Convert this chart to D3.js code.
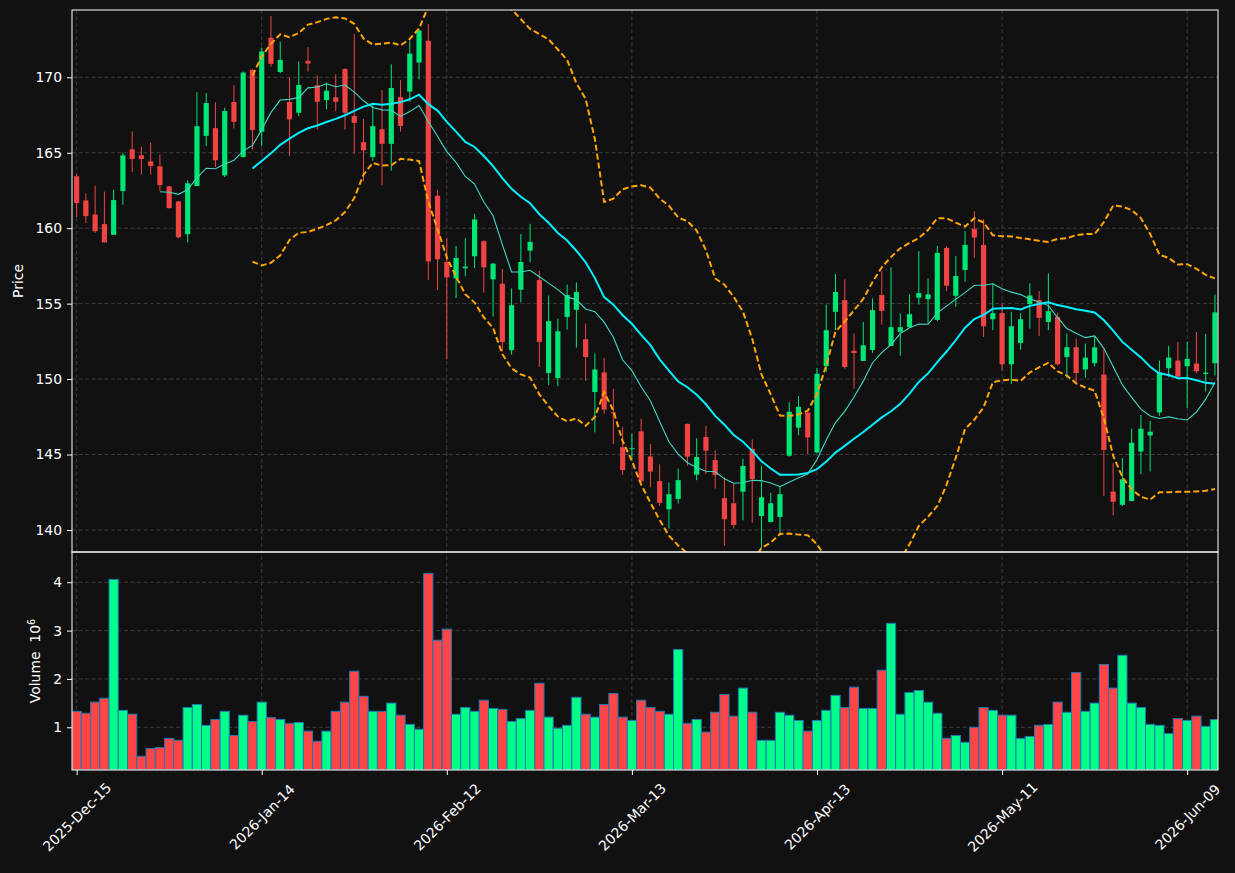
<!DOCTYPE html>
<html>
<head>
<meta charset="utf-8">
<script src="https://cdn.jsdelivr.net/npm/d3@7"></script>
<style>
  body { margin: 0; background: #111111; }
  text { font-family: "DejaVu Sans", sans-serif; fill: #ffffff; }
</style>
</head>
<body>
<svg id="chart" width="1235" height="873"></svg>
<script>
// trading calendar: weekdays from the first session, skipping exchange holidays
const startDate = "2025-12-15";
const holidays = ["2025-12-25", "2026-01-01", "2026-01-19", "2026-02-16", "2026-04-03", "2026-05-25"];
const sessionCount = 124;
const tickEvery = 20;

// OHLC
const openP = [163.44,161.84,160.91,160.27,159.56,162.46,165.23,164.83,164.43,164.10,
  162.77,161.77,159.60,162.79,166.12,166.63,163.50,168.36,164.72,170.49,
  166.39,172.62,170.35,168.36,167.65,171.09,169.47,168.49,168.67,170.55,
  167.43,165.70,164.72,166.56,165.59,168.69,169.05,170.98,172.42,162.15,
  157.76,156.67,157.34,158.14,159.14,156.61,156.32,151.91,155.92,158.51,
  156.56,150.40,150.07,154.12,154.59,152.64,149.14,150.44,147.80,145.48,
  145.38,146.53,144.87,143.24,141.37,142.06,147.03,143.66,146.16,144.63,
  142.11,141.77,142.53,145.37,140.93,140.53,140.86,144.92,146.78,147.78,
  145.14,150.86,154.46,155.23,151.88,151.20,151.93,155.57,152.20,153.13,
  153.44,155.39,155.30,153.92,158.69,155.52,157.23,159.96,158.89,153.97,
  154.37,150.98,152.39,154.97,155.23,153.79,154.12,151.46,152.11,150.64,
  151.05,150.30,142.54,141.67,141.92,145.20,146.26,147.79,150.72,151.23,
  150.85,151.03,150.34,151.05];
const highP = [163.57,162.31,162.82,162.42,162.55,164.99,166.41,165.41,165.68,164.88,
  162.80,161.80,163.17,169.02,168.96,168.34,167.98,169.47,170.38,170.55,
  171.97,174.06,172.37,169.98,171.04,172.00,170.13,169.65,170.20,170.60,
  172.88,167.23,168.20,169.16,170.86,169.82,172.44,173.20,173.53,162.55,
  159.33,158.82,159.33,160.95,159.20,157.70,157.30,156.01,159.60,160.29,
  157.16,155.54,154.01,156.27,156.41,153.68,151.71,151.42,149.36,146.83,
  146.37,147.37,145.71,144.35,143.15,144.08,147.05,146.08,146.90,145.28,
  143.48,143.08,144.72,146.00,144.26,142.46,142.86,148.47,148.87,147.80,
  150.73,154.94,156.96,156.61,153.02,153.79,155.34,157.14,157.41,154.35,
  155.61,158.49,156.67,158.82,158.80,158.16,159.80,161.13,160.60,156.34,
  155.01,154.46,154.35,156.34,155.83,157.01,154.39,153.02,152.68,152.35,
  152.83,152.01,144.42,144.76,146.71,147.62,147.24,151.23,152.21,152.47,
  152.47,153.12,153.00,155.60];
const lowP = [160.73,160.35,159.69,159.06,159.56,161.55,163.73,163.55,163.55,162.48,
  161.30,159.33,159.06,162.79,165.45,164.06,163.39,166.61,164.68,165.21,
  165.45,170.71,170.27,164.79,167.43,170.38,166.54,167.87,167.76,166.54,
  164.94,163.13,164.46,162.84,163.81,166.39,168.38,169.87,156.56,155.90,
  151.31,155.37,156.81,157.36,155.74,154.15,151.82,151.62,155.08,157.74,
  150.80,149.62,149.53,153.28,152.08,149.87,146.47,147.69,145.70,143.66,
  144.71,143.20,142.83,141.60,140.09,141.75,144.26,143.30,143.70,142.75,
  138.96,140.09,140.64,140.47,138.80,140.50,139.65,144.86,146.27,145.03,
  145.10,150.47,153.24,150.69,149.36,151.20,151.73,153.61,152.20,151.55,
  153.40,154.94,153.68,153.84,155.83,154.79,156.45,158.05,152.79,153.24,
  150.58,149.69,151.95,153.35,152.86,153.24,150.90,150.09,149.80,150.09,
  150.83,142.25,140.96,141.59,141.90,143.69,143.87,147.57,150.12,150.01,
  148.08,150.39,149.17,150.23];
const closeP = [161.66,160.80,159.80,159.06,161.86,164.83,164.59,164.59,164.12,162.86,
  161.33,159.40,162.97,166.76,168.29,164.50,167.76,167.05,170.31,166.50,
  171.71,170.89,171.15,167.21,169.49,170.91,168.38,169.11,168.38,167.65,
  166.98,165.16,166.76,165.59,169.29,166.78,171.57,173.10,157.80,157.94,
  156.74,158.03,157.45,160.58,157.41,157.65,152.46,154.90,157.76,159.09,
  152.46,153.84,153.17,155.57,155.77,151.46,150.64,147.98,147.74,143.97,
  145.42,143.23,143.87,141.80,142.37,143.30,144.86,144.83,145.26,143.64,
  140.71,140.33,144.24,143.37,142.17,141.77,142.37,147.83,148.16,146.14,
  150.35,153.24,155.77,150.80,151.73,152.24,154.57,154.52,153.44,153.44,
  154.30,155.70,155.61,158.36,156.19,156.83,158.89,159.38,153.50,154.37,
  150.98,153.50,153.97,155.54,154.06,154.50,150.98,152.11,150.40,151.42,
  152.10,145.31,141.87,143.36,145.78,146.71,146.51,150.45,151.43,150.17,
  151.34,150.52,150.43,154.42];
// volume in millions of shares
const volumeM = [1.33,1.29,1.52,1.60,4.06,1.35,1.27,0.40,0.56,0.58,
  0.77,0.73,1.41,1.47,1.04,1.16,1.33,0.83,1.25,1.12,
  1.52,1.20,1.16,1.08,1.10,0.92,0.71,0.92,1.33,1.52,
  2.16,1.64,1.33,1.33,1.50,1.25,1.06,0.96,4.18,2.80,
  3.03,1.27,1.41,1.33,1.56,1.39,1.37,1.12,1.18,1.35,
  1.91,1.21,0.98,1.04,1.62,1.27,1.21,1.47,1.70,1.21,
  1.14,1.56,1.41,1.33,1.27,2.61,1.08,1.16,0.90,1.31,
  1.68,1.23,1.81,1.31,0.73,0.73,1.31,1.25,1.14,0.92,
  1.14,1.35,1.66,1.41,1.83,1.39,1.39,2.18,3.15,1.27,
  1.72,1.76,1.52,1.29,0.77,0.83,0.69,1.00,1.41,1.35,
  1.25,1.25,0.77,0.81,1.04,1.06,1.52,1.31,2.13,1.33,
  1.50,2.30,1.81,2.49,1.50,1.41,1.06,1.04,0.87,1.18,
  1.14,1.23,1.02,1.16];
const priceTicks = [140, 145, 150, 155, 160, 165, 170];
const volumeTicks = [1, 2, 3, 4];
const maShort = 10, maLong = 20, bandWidth = 2;

// build the session dates
const parseDay = d3.timeParse("%Y-%m-%d");
const fmtKey = d3.timeFormat("%Y-%m-%d");
const dates = [];
let day = parseDay(startDate);
while (dates.length < sessionCount) {
  const wd = day.getDay();
  if (wd !== 0 && wd !== 6 && !holidays.includes(fmtKey(day))) dates.push(new Date(day));
  day = d3.timeDay.offset(day, 1);
}
const fmtTick = d3.timeFormat("%Y-%b-%d");
const tickIdx = d3.range(0, sessionCount, tickEvery);

// rolling stats on the close
function rolling(n, fn) {
  return closeP.map((c, i) => i < n - 1 ? null : fn(closeP.slice(i - n + 1, i + 1)));
}
const ma10 = rolling(maShort, d3.mean);
const ma20 = rolling(maLong, d3.mean);
const sd20 = rolling(maLong, w => { const m = d3.mean(w); return Math.sqrt(d3.mean(w, v => (v - m) * (v - m))); });
const upper = ma20.map((m, i) => m === null ? null : m + bandWidth * sd20[i]);
const lower = ma20.map((m, i) => m === null ? null : m - bandWidth * sd20[i]);

// layout
const plotL = 72, plotR = 1218, plotT = 10, plotMid = 552, plotB = 770;
const fontSize = "13.9px";
const svg = d3.select("#chart");
svg.append("rect").attr("width", 1235).attr("height", 873).attr("fill", "#111111");

const x = d3.scaleLinear().domain([-0.5, 123.33]).range([plotL, plotR]);
const step = x(1) - x(0);
const yP = d3.scaleLinear().domain([138.54, 174.46]).range([plotMid, plotT]);
const yV = d3.scaleLinear().domain([0.116, 4.626]).range([plotB, plotMid]);

const defs = svg.append("defs");
defs.append("clipPath").attr("id", "clipP").append("rect")
  .attr("x", plotL).attr("y", plotT).attr("width", plotR - plotL).attr("height", plotMid - plotT);
defs.append("clipPath").attr("id", "clipV").append("rect")
  .attr("x", plotL).attr("y", plotMid).attr("width", plotR - plotL).attr("height", plotB - plotMid);

const gridColor = "#3c3c3c";
const up = i => closeP[i] >= openP[i];

// grid lines
const grid = svg.append("g").attr("stroke", gridColor).attr("stroke-width", 1).attr("stroke-dasharray", "4,2.5");
grid.selectAll(".gp").data(priceTicks).enter().append("line")
  .attr("x1", plotL).attr("x2", plotR).attr("y1", d => yP(d)).attr("y2", d => yP(d));
grid.selectAll(".gv").data(volumeTicks).enter().append("line")
  .attr("x1", plotL).attr("x2", plotR).attr("y1", d => yV(d)).attr("y2", d => yV(d));
grid.selectAll(".gx").data(tickIdx).enter().append("line")
  .attr("x1", d => x(d)).attr("x2", d => x(d)).attr("y1", plotT).attr("y2", plotB);

// candles
const candles = svg.append("g").attr("clip-path", "url(#clipP)")
  .selectAll("g").data(d3.range(sessionCount)).enter().append("g");
candles.append("line")
  .attr("x1", i => x(i)).attr("x2", i => x(i))
  .attr("y1", i => yP(highP[i])).attr("y2", i => yP(lowP[i]))
  .attr("stroke", i => up(i) ? "#00e676" : "#f04444").attr("stroke-width", 1);
candles.append("rect")
  .attr("x", i => x(i) - step * 0.28).attr("width", step * 0.56)
  .attr("y", i => yP(Math.max(openP[i], closeP[i])))
  .attr("height", i => Math.max(1, Math.abs(yP(openP[i]) - yP(closeP[i]))))
  .attr("fill", i => up(i) ? "#00e676" : "#f04444");

// moving averages and bands
const line = d3.line().defined(d => d !== null).x((d, i) => x(i)).y(d => yP(d));
const lines = svg.append("g").attr("clip-path", "url(#clipP)").attr("fill", "none");
lines.append("path").datum(ma10).attr("d", line).attr("stroke", "#40d8c4").attr("stroke-width", 1.1);
lines.append("path").datum(ma20).attr("d", line).attr("stroke", "#00f0ff").attr("stroke-width", 2);
[upper, lower].forEach(b => {
  lines.append("path").datum(b).attr("d", line).attr("stroke", "#ffa500")
    .attr("stroke-width", 2).attr("stroke-dasharray", "6,3");
});

// volume bars
svg.append("g").attr("clip-path", "url(#clipV)")
  .selectAll("rect").data(volumeM).enter().append("rect")
  .attr("x", (d, i) => x(i) - step / 2).attr("width", step)
  .attr("y", d => yV(d)).attr("height", d => plotB - yV(d))
  .attr("fill", (d, i) => up(i) ? "#00ff88" : "#ff4545")
  .attr("stroke", "#1f77b4").attr("stroke-width", 1);

// spines
const spines = svg.append("g").attr("fill", "none").attr("stroke", "#ffffff").attr("stroke-width", 1);
spines.append("rect").attr("x", plotL).attr("y", plotT).attr("width", plotR - plotL).attr("height", plotMid - plotT);
spines.append("rect").attr("x", plotL).attr("y", plotMid).attr("width", plotR - plotL).attr("height", plotB - plotMid);

// axes
function styleAxis(g) {
  g.select(".domain").remove();
  g.selectAll(".tick line").attr("stroke", "#ffffff");
  g.selectAll(".tick text").attr("fill", "#ffffff").style("font-size", fontSize)
    .style("font-family", "DejaVu Sans, sans-serif");
}
svg.append("g").attr("transform", `translate(${plotL},0)`)
  .call(d3.axisLeft(yP).tickValues(priceTicks).tickSize(5).tickPadding(5).tickFormat(d3.format("d")))
  .call(styleAxis);
svg.append("g").attr("transform", `translate(${plotL},0)`)
  .call(d3.axisLeft(yV).tickValues(volumeTicks).tickSize(5).tickPadding(5).tickFormat(d3.format("d")))
  .call(styleAxis);
const xAxis = svg.append("g").attr("transform", `translate(0,${plotB})`)
  .call(d3.axisBottom(x).tickValues(tickIdx).tickSize(5).tickFormat(i => fmtTick(dates[i])))
  .call(styleAxis);
// rotated labels centred under their tick
xAxis.selectAll(".tick text")
  .attr("text-anchor", "middle").attr("y", 0).attr("dy", "0.35em")
  .attr("transform", "translate(0,47) rotate(-45)");

// axis titles
svg.append("text").attr("transform", "translate(23,281) rotate(-90)")
  .attr("text-anchor", "middle").style("font-size", fontSize).text("Price");
const vt = svg.append("text").attr("transform", "translate(40,661) rotate(-90)")
  .attr("text-anchor", "middle").style("font-size", fontSize).style("white-space", "pre");
vt.append("tspan").text("Volume  10");
vt.append("tspan").attr("dy", "-0.5em").style("font-size", "9.7px").text("6");
</script>
</body>
</html>
